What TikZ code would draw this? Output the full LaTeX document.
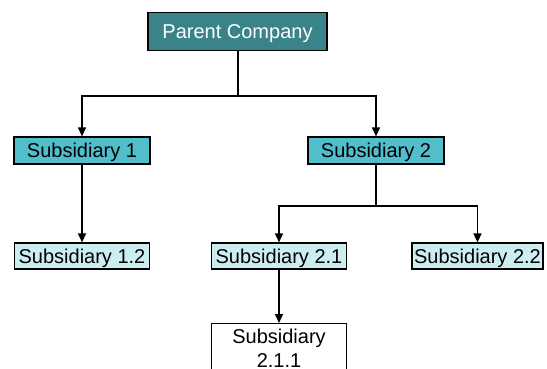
\documentclass[tikz,border=0pt]{standalone}
\usepackage{fontspec}
\setmainfont{Liberation Sans}
\usetikzlibrary{arrows.meta}
\definecolor{parentteal}{RGB}{58,131,137}
\definecolor{subcyan}{RGB}{82,189,203}
\definecolor{sublight}{RGB}{205,238,240}
\begin{document}
\begin{tikzpicture}[x=1pt,y=1pt,line join=miter,>={Triangle[length=9pt,width=8pt]},
    boxbase/.style={draw=black,line width=1.2pt,inner sep=0pt,font=\fontsize{20}{24}\selectfont},
    box/.style={boxbase,text height=14.3pt,text depth=0pt,minimum height=27pt},
    toplevel/.style={box,fill=parentteal,text=white,minimum width=179pt,minimum height=38pt},
    midlevel/.style={box,fill=subcyan,minimum width=136pt},
    lowlevel/.style={box,fill=sublight,minimum width=135pt,minimum height=26pt},
    leaflevel/.style={boxbase,fill=white,minimum width=135pt,align=center,anchor=north,inner ysep=5pt},
    link/.style={line width=1.3pt}]
  \useasboundingbox (0,0) rectangle (547,368);
  \clip (0,0) rectangle (547,368);
  % boxes
  \node[toplevel] (parent) at (237.5,336.5) {Parent Company};
  \node[midlevel] (sub1) at (82,217.5) {Subsidiary 1};
  \node[midlevel] (sub2) at (376,217.5) {Subsidiary 2};
  \node[lowlevel] (sub12) at (82,112) {Subsidiary 1.2};
  \node[lowlevel] (sub21) at (279,112) {Subsidiary 2.1};
  \node[lowlevel,minimum width=131pt] (sub22) at (477.5,112) {Subsidiary 2.2};
  \node[leaflevel] (sub211) at (279,45) {Subsidiary\\2.1.1};
  % branch points
  \coordinate (fork0) at (238,272);
  \coordinate (fork2) at (376,162);
  % connectors
  \draw[link] (parent.south -| fork0) -- (fork0);
  \draw[link,->] (fork0) -| (sub1);
  \draw[link,->] (fork0) -| (sub2);
  \draw[link,->] (sub1) -- (sub12);
  \draw[link] (sub2) -- (fork2);
  \draw[link,->] (fork2) -| (sub21);
  \draw[link,->] (fork2) -| (sub22);
  \draw[link,->] (sub21) -- (sub211);
\end{tikzpicture}
\end{document}
